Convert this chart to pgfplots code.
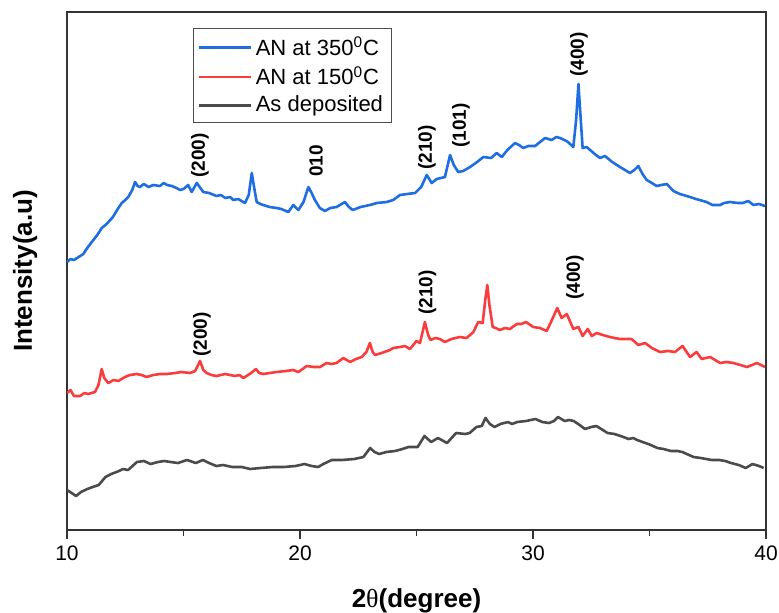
\documentclass[border=0pt]{standalone}
\usepackage{pgfplots}
\pgfplotsset{compat=1.18}
\usepackage{fontspec}
\setmainfont{Liberation Sans}
\newfontfamily\serifgreek{Liberation Serif}
\definecolor{cblue}{RGB}{30,110,225}
\definecolor{cred}{RGB}{250,60,60}
\definecolor{cgray}{RGB}{75,75,75}
\begin{document}
\begin{tikzpicture}
\path[use as bounding box] (-33.5pt,-41pt) rectangle (356pt,265pt);
\begin{axis}[
 at={(0,0)}, anchor=south west,
 scale only axis, width=349.5pt, height=259pt,
 xmin=10, xmax=40, ymin=0, ymax=518,
 xtick={10,20,30,40}, minor xtick={15,25,35},
 ytick=\empty,
 xtick pos=bottom, tick align=outside,
 major tick length=4.5pt, minor tick length=3pt,
 axis line style={line width=0.75pt, black!80},
 tick style={line width=0.75pt, black!80},
 /pgf/number format/assume math mode=true,
 ticklabel style={font=\fontsize{10.5}{12}\selectfont},
 xlabel={2{\serifgreek\mdseries θ}(degree)},
 ylabel={Intensity(a.u)},
 label style={font=\bfseries\fontsize{13}{15}\selectfont},
 xlabel style={at={(axis description cs:0.5,-0.137)}, anchor=center},
 ylabel style={at={(axis description cs:-0.060,0.5)}, anchor=center},
 legend style={at={(0.18,0.969)}, anchor=north west, font=\fontsize{11}{13}\selectfont, draw=black!70, line width=0.5pt, row sep=0pt, inner sep=2pt},
 legend cell align=left,
 legend image code/.code={\draw[#1, line width=1.25pt] (0pt,0pt) -- (26pt,0pt);},
 every axis plot/.append style={line width=1.3pt, line join=round},
]
\addplot[cblue] coordinates {
(10.0,268) (10.15,271) (10.3,270) (10.5,273) (10.7,276) (10.9,283) (11.13,290) (11.3,295) (11.49,302) (11.7,306) (11.97,313) (12.15,320) (12.35,327) (12.5,330) (12.63,333) (12.8,340) (12.92,348) (13.03,344) (13.13,343) (13.3,346) (13.5,343) (13.7,345) (13.99,344) (14.15,347) (14.3,345) (14.5,344) (14.7,342) (14.85,340) (15.0,341) (15.2,345) (15.35,338) (15.57,347) (15.85,338) (16.1,337) (16.42,334) (16.6,335) (16.8,332) (17.0,333) (17.14,330) (17.35,331) (17.64,327) (17.8,335) (17.93,357) (18.05,340) (18.14,328) (18.3,326) (18.42,325) (18.7,323) (19.0,322) (19.2,321) (19.5,318) (19.71,325) (19.93,320) (20.15,328) (20.36,343) (20.5,337) (20.64,330) (20.85,322) (21.07,319) (21.3,322) (21.57,323) (21.93,328) (22.1,323) (22.26,320) (22.6,323) (23.0,325) (23.3,327) (23.72,328) (24.0,330) (24.29,335) (24.6,336) (24.94,337) (25.2,343) (25.44,355) (25.65,347) (25.87,351) (26.22,353) (26.44,375) (26.6,365) (26.79,358) (27.0,359) (27.3,363) (27.6,368) (27.87,373) (28.2,372) (28.44,377) (28.66,373) (28.9,380) (29.23,387) (29.4,385) (29.58,382) (29.8,384) (30.09,384) (30.3,388) (30.52,392) (30.8,390) (31.0,393) (31.16,392) (31.35,390) (31.5,388) (31.73,383) (31.85,410) (31.95,446) (32.05,410) (32.13,382) (32.3,383) (32.45,380) (32.7,375) (32.88,372) (33.09,374) (33.4,368) (33.73,363) (33.95,360) (34.16,357) (34.35,360) (34.52,364) (34.7,356) (34.88,350) (35.1,347) (35.31,344) (35.5,345) (35.74,346) (36.03,339) (36.3,336) (36.6,334) (37.0,331) (37.45,328) (37.7,325) (38.03,325) (38.2,327) (38.45,328) (38.8,327) (39.0,327) (39.24,329) (39.46,325) (39.7,326) (39.96,324)
};
\addlegendentry{AN at 350\textsuperscript{0}C}
\addplot[cred] coordinates {
(10.0,137) (10.15,140) (10.3,134) (10.56,134) (10.75,137) (10.9,136) (11.2,138) (11.35,145) (11.49,161) (11.6,152) (11.77,147) (12.0,150) (12.2,149) (12.49,153) (12.7,155) (12.99,156) (13.2,155) (13.42,153) (13.7,155) (13.99,156) (14.3,156) (14.64,157) (14.9,158) (15.28,157) (15.5,159) (15.71,169) (15.85,160) (16.0,157) (16.2,155) (16.42,154) (16.78,156) (17.0,155) (17.2,154) (17.4,155) (17.57,152) (17.9,157) (18.11,161) (18.25,157) (18.42,156) (18.7,157) (19.0,158) (19.4,159) (19.71,160) (19.93,158) (20.29,164) (20.6,163) (20.86,163) (21.14,167) (21.35,166) (21.57,167) (21.86,172) (22.15,168) (22.4,171) (22.65,173) (22.85,178) (23.0,187) (23.12,178) (23.22,175) (23.5,177) (23.86,180) (24.0,182) (24.29,183) (24.5,184) (24.72,181) (25.0,189) (25.15,187) (25.36,208) (25.5,195) (25.6,190) (25.8,192) (26.0,191) (26.22,188) (26.5,191) (26.86,193) (27.15,192) (27.44,198) (27.65,208) (27.84,207) (27.95,230) (28.04,245) (28.13,225) (28.27,203) (28.4,202) (28.58,200) (28.8,202) (29.01,201) (29.3,206) (29.5,206) (29.7,208) (30.01,203) (30.3,202) (30.59,199) (30.85,212) (31.04,222) (31.23,212) (31.45,216) (31.6,208) (31.73,201) (31.95,203) (32.13,194) (32.35,201) (32.52,194) (32.73,197) (33.0,195) (33.3,193) (33.5,192) (33.73,191) (34.0,191) (34.23,191) (34.52,185) (34.81,187) (35.1,182) (35.45,178) (35.8,179) (36.09,178) (36.42,184) (36.74,173) (37.02,178) (37.24,171) (37.6,173) (38.03,167) (38.3,168) (38.6,167) (38.9,165) (39.18,163) (39.4,165) (39.61,167) (39.96,163)
};
\addlegendentry{AN at 150\textsuperscript{0}C}
\addplot[cgray] coordinates {
(10.0,40) (10.2,37) (10.39,34) (10.6,38) (10.87,41) (11.1,43) (11.36,45) (11.65,53) (11.9,56) (12.23,59) (12.4,61) (12.62,60) (13.0,68) (13.3,69) (13.59,66) (13.9,68) (14.17,69) (14.45,68) (14.76,67) (15.15,70) (15.53,67) (15.83,70) (16.1,67) (16.41,64) (16.7,65) (17.09,63) (17.5,63) (17.86,61) (18.3,62) (18.83,63) (19.3,63) (19.81,64) (20.19,66) (20.5,64) (20.78,63) (21.0,66) (21.36,70) (21.8,70) (22.33,71) (22.72,73) (23.01,82) (23.2,78) (23.4,76) (23.7,78) (24.08,79) (24.4,81) (24.66,83) (25.05,83) (25.34,94) (25.63,88) (25.92,92) (26.31,87) (26.7,97) (27.09,96) (27.28,97) (27.57,103) (27.8,104) (27.96,112) (28.15,106) (28.35,103) (28.6,106) (28.93,108) (29.1,106) (29.32,108) (29.7,109) (30.1,111) (30.4,108) (30.68,107) (30.9,109) (31.07,113) (31.36,109) (31.55,110) (31.75,109) (32.0,105) (32.23,101) (32.5,103) (32.72,104) (33.0,100) (33.2,97) (33.5,96) (33.88,93) (34.1,91) (34.3,92) (34.47,90) (34.7,88) (34.95,86) (35.15,84) (35.34,82) (35.6,81) (35.92,79) (36.2,79) (36.41,78) (36.6,76) (36.89,73) (37.2,72) (37.67,70) (38.0,70) (38.25,69) (38.5,67) (38.83,65) (39.13,62) (39.42,66) (39.7,64) (39.9,62)
};
\addlegendentry{As deposited}
\begin{scope}[every node/.style={rotate=90, anchor=west, inner sep=0pt, font=\bfseries\fontsize{9.5}{11}\selectfont}]
\node at (axis cs:15.71,352) {(200)};
\node at (axis cs:20.69,353) {010};
\node at (axis cs:25.45,360) {(210)};
\node at (axis cs:26.91,382) {(101)};
\node at (axis cs:31.97,453) {(400)};
\node at (axis cs:15.79,173) {(200)};
\node at (axis cs:25.47,215) {(210)};
\node at (axis cs:31.80,230) {(400)};
\end{scope}
\end{axis}
\end{tikzpicture}
\end{document}
